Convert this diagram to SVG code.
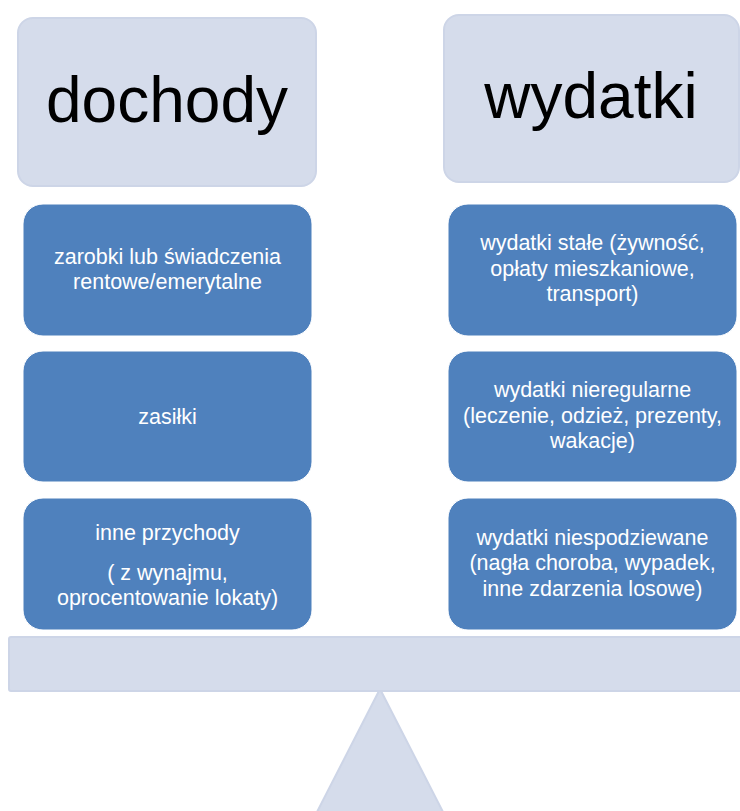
<svg xmlns="http://www.w3.org/2000/svg" width="740" height="811" viewBox="0 0 740 811">
  <style>
    .head { fill: #D5DCEB; stroke: #CDD5E7; stroke-width: 2; }
    .item { fill: #4F81BD; stroke: #FFFFFF; stroke-width: 1; }
    .scale { fill: #D5DCEB; stroke: #CDD5E7; stroke-width: 2; }
    .title { font-family: "Liberation Sans", Arial, sans-serif; font-size: 64px; fill: #000000; text-anchor: middle; }
    .label { font-family: "Liberation Sans", Arial, sans-serif; font-size: 21.5px; fill: #FFFFFF; text-anchor: middle; }
  </style>
  <rect width="740" height="811" fill="#FFFFFF"/>

  <!-- balance: fulcrum and beam -->
  <g id="fulcrum">
    <polygon class="scale" points="380,689 443,812 317,812"/>
  </g>
  <g id="beam">
    <rect class="scale" x="9" y="637" width="740" height="54" rx="2"/>
  </g>

  <!-- column headers -->
  <g id="dochody">
    <rect class="head" x="18" y="18" width="298" height="168" rx="15"/>
    <text class="title" x="167" y="122">dochody</text>
  </g>
  <g id="wydatki">
    <rect class="head" x="444" y="15" width="295" height="167" rx="15"/>
    <text class="title" x="591" y="118">wydatki</text>
  </g>

  <!-- income items -->
  <g id="zarobki">
    <rect class="item" x="23" y="204" width="289" height="132" rx="20"/>
    <text class="label" x="167.5" y="264">zarobki lub świadczenia</text>
    <text class="label" x="167.5" y="289">rentowe/emerytalne</text>
  </g>
  <g id="zasilki">
    <rect class="item" x="23" y="351" width="289" height="131" rx="20"/>
    <text class="label" x="167.5" y="424">zasiłki</text>
  </g>
  <g id="inne-przychody">
    <rect class="item" x="23" y="498" width="289" height="132" rx="20"/>
    <text class="label" x="167.5" y="540">inne przychody</text>
    <text class="label" x="167.5" y="580">( z wynajmu,</text>
    <text class="label" x="167.5" y="605">oprocentowanie lokaty)</text>
  </g>

  <!-- expense items -->
  <g id="wydatki-stale">
    <rect class="item" x="448" y="204" width="289" height="132" rx="20"/>
    <text class="label" x="592.5" y="250">wydatki stałe (żywność,</text>
    <text class="label" x="592.5" y="275.5">opłaty mieszkaniowe,</text>
    <text class="label" x="592.5" y="301">transport)</text>
  </g>
  <g id="wydatki-nieregularne">
    <rect class="item" x="448" y="351" width="289" height="131" rx="20"/>
    <text class="label" x="592.5" y="397">wydatki nieregularne</text>
    <text class="label" x="592.5" y="422.5">(leczenie, odzież, prezenty,</text>
    <text class="label" x="592.5" y="448">wakacje)</text>
  </g>
  <g id="wydatki-niespodziewane">
    <rect class="item" x="448" y="498" width="289" height="132" rx="20"/>
    <text class="label" x="592.5" y="544.5">wydatki niespodziewane</text>
    <text class="label" x="592.5" y="570">(nagła choroba, wypadek,</text>
    <text class="label" x="592.5" y="595.5">inne zdarzenia losowe)</text>
  </g>

  <!-- no connectors in this figure -->
  <g id="connectors"/>
</svg>
